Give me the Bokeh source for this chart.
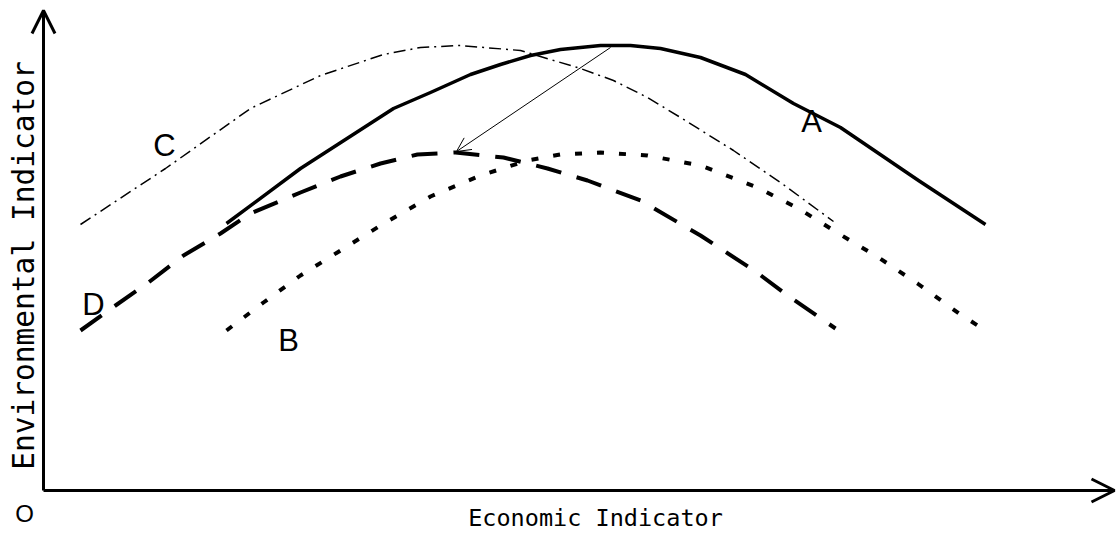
import math
from bokeh.plotting import figure
from bokeh.models import Range1d, Arrow, OpenHead, Label, ColumnDataSource
from bokeh.core.properties import value
from bokeh.embed import file_html
from bokeh.resources import INLINE

# Curve A (solid)
a_x = [183, 257, 350, 387, 427, 457, 487, 517, 557, 587, 617, 657, 702, 750, 797, 875, 942]
a_y = [267, 322, 382, 398, 416, 426, 435, 441, 445, 445, 442, 433, 416, 387, 363, 310, 266]
# Curve B (dotted)
b_x = [183, 220, 257, 297, 337, 387, 437, 484, 517, 557, 604, 657, 714, 755, 795, 835, 874, 917, 942]
b_y = [160, 188, 215, 240, 265, 294, 315, 330, 336, 338, 335, 325, 303, 282, 257, 233, 207, 176, 160]
# Curve C (dash-dot)
c_x = [37, 122, 207, 277, 340, 377, 417, 477, 537, 570, 604, 637, 690, 737, 790]
c_y = [266, 322, 382, 415, 436, 443, 445, 440, 422, 410, 393, 373, 340, 308, 269]
# Curve D (long dash)
d_x = [37, 72, 105, 140, 177, 207, 257, 297, 337, 374, 412, 460, 504, 544, 597, 657, 712, 747, 792]
d_y = [160, 185, 208, 235, 257, 277, 298, 314, 327, 336, 338, 333, 322, 310, 290, 255, 219, 193, 162]

# Curve labels
label_text = ["A", "B", "C", "D"]
label_x = [768, 245, 121, 50]
label_y = [369, 150, 345, 186]

# Shift arrow (peak of A -> peak of D)
shift_start = (567, 443)
shift_end = (413, 339)

# Axis extents
x_axis_end = 1071
y_axis_end = 480

x_title = "Economic Indicator"
y_title = "Environmental Indicator"
origin_text = "O"

p = figure(width=1116, height=537, x_range=Range1d(-43, 1073), y_range=Range1d(-47, 490),
           output_backend="svg", toolbar_location=None, min_border=0,
           x_axis_location=None, y_axis_location=None)
p.grid.visible = False
p.outline_line_color = None

# axes with arrows
p.add_layout(Arrow(x_start=0, y_start=0, x_end=x_axis_end, y_end=0, line_width=3, line_color="black",
                   end=OpenHead(size=23, line_width=3, line_color="black")))
p.add_layout(Arrow(x_start=0, y_start=0, x_end=0, y_end=y_axis_end, line_width=3, line_color="black",
                   end=OpenHead(size=23, line_width=3, line_color="black")))

p.line(c_x, c_y, line_color="black", line_width=1.5, line_dash="12 5 2 5")
p.line(a_x, a_y, line_color="black", line_width=3.5, line_join="round")
p.line(d_x, d_y, line_color="black", line_width=4, line_dash="26 16")
p.line(b_x, b_y, line_color="black", line_width=4, line_dash="7 15")

p.add_layout(Arrow(x_start=shift_start[0], y_start=shift_start[1], x_end=shift_end[0], y_end=shift_end[1],
                   line_width=1, line_color="black",
                   end=OpenHead(size=14, line_width=1, line_color="black")))

src = ColumnDataSource(dict(x=label_x, y=label_y, t=label_text))
p.text(x="x", y="y", text="t", source=src, text_font=value("Liberation Sans"), text_font_size="31px",
       text_align="center", text_baseline="middle", text_color="black")

p.add_layout(Label(x=552, y=-27, text=x_title, text_font="DejaVu Sans Mono", text_font_size="23.5px",
                   text_align="center", text_baseline="middle", text_color="black"))
p.add_layout(Label(x=-20, y=225, text=y_title, angle=math.pi / 2, text_font="DejaVu Sans Mono",
                   text_font_size="29.5px", text_align="center", text_baseline="middle", text_color="black"))
p.add_layout(Label(x=-19, y=-23, text=origin_text, text_font="Liberation Sans", text_font_size="24px",
                   text_align="center", text_baseline="middle", text_color="black"))

open("out.html", "w").write(file_html(p, INLINE))
